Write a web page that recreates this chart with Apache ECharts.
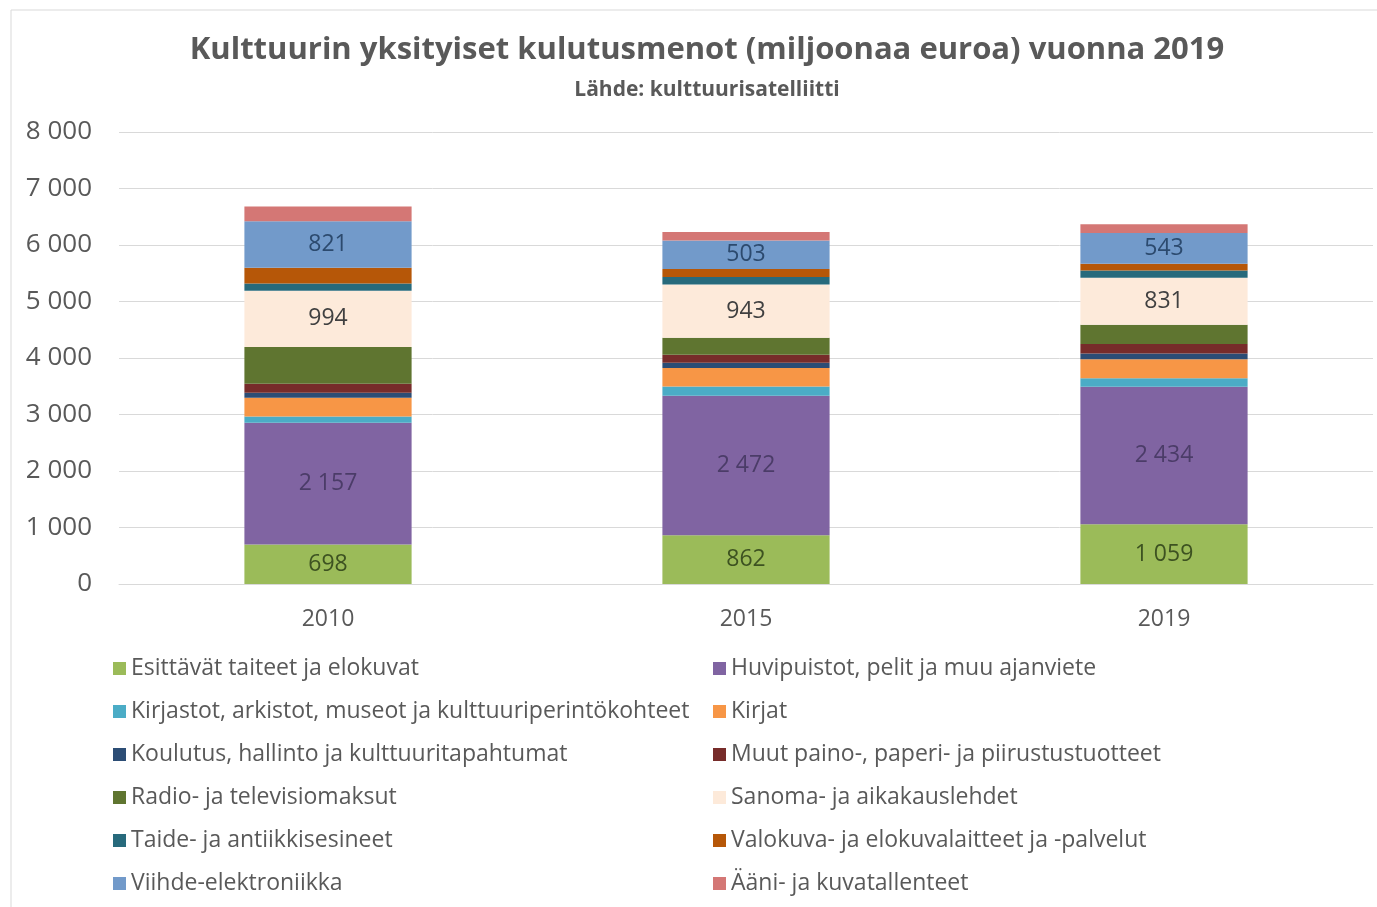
<!DOCTYPE html>
<html>
<head>
<meta charset="utf-8">
<script src="https://cdn.jsdelivr.net/npm/echarts@6/dist/echarts.min.js"></script>
<style>
html, body { margin: 0; padding: 0; background: #fff; }
#chart { width: 1377px; height: 907px; }
</style>
</head>
<body>
<div id="chart"></div>
<script>
var years = ['2010', '2015', '2019'];
var yTicks = [0, 1000, 2000, 3000, 4000, 5000, 6000, 7000, 8000];

var esittavat = [698, 862, 1059];
var huvipuistot = [2157, 2472, 2434];
var kirjastot = [110, 160, 150];
var kirjat = [330, 330, 335];
var koulutus = [90, 90, 100];
var muutPaino = [160, 145, 170];
var radio = [650, 300, 340];
var sanoma = [994, 943, 831];
var taide = [130, 130, 130];
var valokuva = [280, 145, 120];
var viihde = [821, 503, 543];
var aani = [260, 150, 155];

var seriesNames = [
	'Esittävät taiteet ja elokuvat',
	'Huvipuistot, pelit ja muu ajanviete',
	'Kirjastot, arkistot, museot ja kulttuuriperintökohteet',
	'Kirjat',
	'Koulutus, hallinto ja kulttuuritapahtumat',
	'Muut paino-, paperi- ja piirustustuotteet',
	'Radio- ja televisiomaksut',
	'Sanoma- ja aikakauslehdet',
	'Taide- ja antiikkisesineet',
	'Valokuva- ja elokuvalaitteet ja -palvelut',
	'Viihde-elektroniikka',
	'Ääni- ja kuvatallenteet'
];
var seriesData = [esittavat, huvipuistot, kirjastot, kirjat, koulutus, muutPaino,
	radio, sanoma, taide, valokuva, viihde, aani];
var colors = ['#9BBB59', '#8064A2', '#4BACC6', '#F79646', '#2C4D75', '#772C2A',
	'#5F7530', '#FDEADA', '#276A7C', '#B65708', '#729ACA', '#D47775'];
// vain osalla sarjoista on arvot näkyvissä
var labelColors = ['#3d5221', '#4b3c68', null, null, null, null,
	null, '#404040', null, null, '#2c4a6e', null];

var FONT = '"Open Sans", "Noto Sans", sans-serif';

function fmt(v) {
	return String(v).replace(/\B(?=(\d{3})+(?!\d))/g, ' ');
}

var chart = echarts.init(document.getElementById('chart'));

var series = [];
for (var i = 0; i < seriesNames.length; i++) {
	var s = {
		name : seriesNames[i],
		type : 'bar',
		stack : 'total',
		barWidth : '40%',
		data : seriesData[i],
		itemStyle : { color : colors[i] },
		label : { show : false }
	};
	if (labelColors[i]) {
		s.label = {
			show : true,
			position : 'inside',
			fontFamily : FONT,
			fontSize : 23,
			color : labelColors[i],
			formatter : function(p) { return fmt(p.value); }
		};
	}
	series.push(s);
}

var leftNames = [], rightNames = [];
for (var j = 0; j < seriesNames.length; j++) {
	if (j % 2 === 0) leftNames.push(seriesNames[j]);
	else rightNames.push(seriesNames[j]);
}

var legendBase = {
	orient : 'vertical',
	top : 652,
	itemWidth : 13,
	itemHeight : 13,
	itemGap : 20,
	icon : 'rect',
	textStyle : { fontFamily : FONT, fontSize : 23, color : '#595959', lineHeight : 23 }
};

var option = {
	animation : false,
	backgroundColor : '#fff',
	graphic : [ {
		type : 'rect',
		shape : { x : 11, y : 10, width : 1400, height : 1000 },
		style : { fill : null, stroke : '#d9d9d9', lineWidth : 1 },
		silent : true
	} ],
	title : [ {
		text : 'Kulttuurin yksityiset kulutusmenot (miljoonaa euroa) vuonna 2019',
		left : 702,
		top : 30,
		textAlign : 'center',
		textStyle : { fontFamily : FONT, fontSize : 31, fontWeight : 'bold', color : '#595959' }
	}, {
		text : 'Lähde: kulttuurisatelliitti',
		left : 702,
		top : 75,
		textAlign : 'center',
		textStyle : { fontFamily : FONT, fontSize : 21, fontWeight : 'bold', color : '#595959' }
	} ],
	legend : [
		echarts.util.merge({ left : 108, data : leftNames }, legendBase, false),
		echarts.util.merge({ left : 708, data : rightNames }, legendBase, false)
	],
	grid : {
		left : 119,
		right : 4,
		top : 132,
		bottom : 323
	},
	xAxis : {
		type : 'category',
		data : years,
		axisTick : { show : false },
		axisLine : { lineStyle : { color : '#d9d9d9' } },
		axisLabel : { fontFamily : FONT, fontSize : 23, color : '#595959', margin : 24 }
	},
	yAxis : {
		type : 'value',
		min : yTicks[0],
		max : yTicks[yTicks.length - 1],
		interval : 1000,
		axisLine : { show : false },
		axisTick : { show : false },
		splitLine : { lineStyle : { color : '#d9d9d9' } },
		axisLabel : {
			fontFamily : FONT, fontSize : 26, color : '#595959', margin : 27,
			formatter : function(v) { return fmt(v); }
		}
	},
	series : series
};
chart.setOption(option);
</script>
</body>
</html>
